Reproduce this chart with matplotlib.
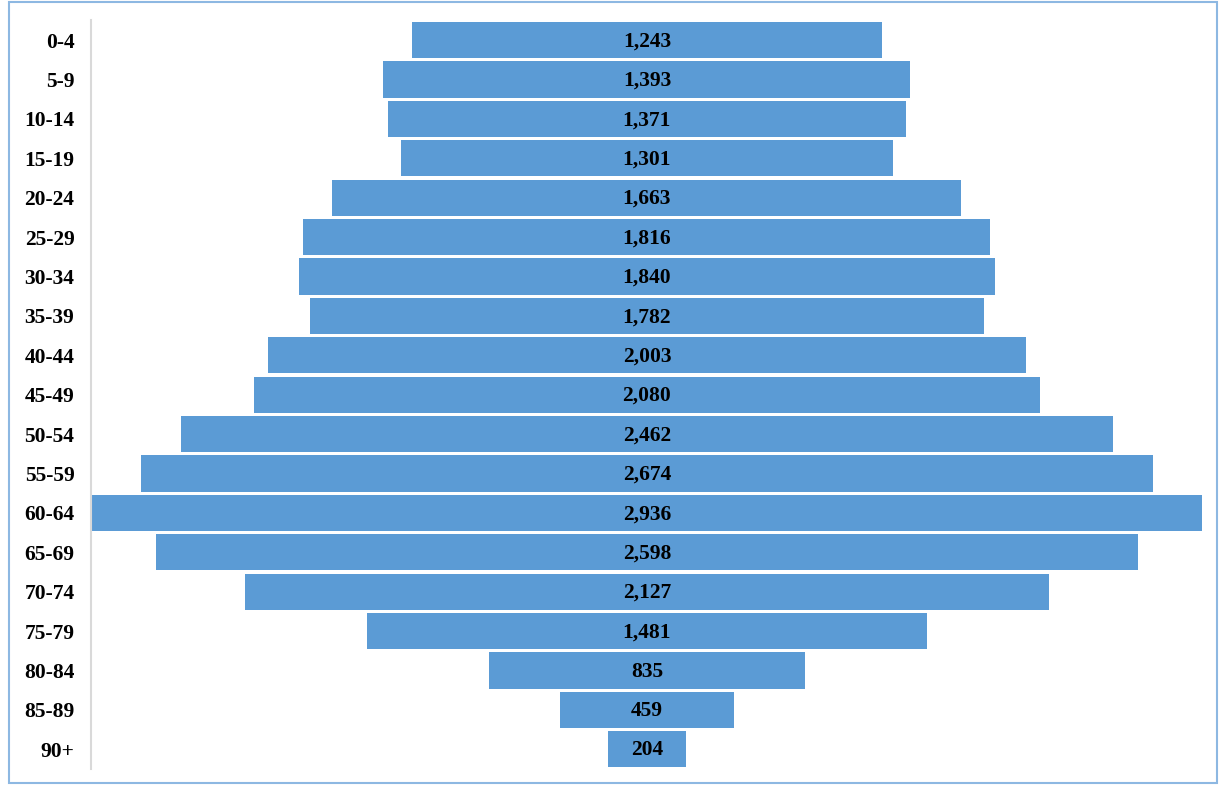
import matplotlib
matplotlib.use("Agg")
import matplotlib.pyplot as plt
from matplotlib.patches import Rectangle

matplotlib.rcParams['font.family'] = ['Liberation Serif', 'DejaVu Serif']

# ── 데이터 ───────────────────────────────────────────────
age_groups = ["0-4", "5-9", "10-14", "15-19", "20-24", "25-29", "30-34",
              "35-39", "40-44", "45-49", "50-54", "55-59", "60-64", "65-69",
              "70-74", "75-79", "80-84", "85-89", "90+"]
population = [1243, 1393, 1371, 1301, 1663, 1816, 1840, 1782, 2003, 2080,
              2462, 2674, 2936, 2598, 2127, 1481, 835, 459, 204]

BAR_COLOR = "#5B9BD5"
FS = 15.5

fig = plt.figure(figsize=(12.19, 7.85), dpi=100)
ax = fig.add_axes([0.0747, 0.0204, 0.912, 0.9535])

ypos = list(range(len(age_groups)))
lefts = [-v / 2 for v in population]
ax.barh(ypos, population, left=lefts, height=0.92, color=BAR_COLOR)

for y, v in zip(ypos, population):
    ax.text(0, y + 0.03, f"{v:,}", ha='center', va='center',
            fontsize=FS, fontweight='bold', color='black')

half = max(population) / 2
ax.set_xlim(-half * 1.001, half * 1.001)
ax.set_ylim(len(age_groups) - 0.5, -0.5)
ax.set_yticks(ypos)
ax.set_yticklabels(age_groups, fontsize=FS, fontweight='bold')
ax.tick_params(axis='y', length=0, pad=12)
ax.set_xticks([])

for side in ['top', 'right', 'bottom']:
    ax.spines[side].set_visible(False)
ax.spines['left'].set_color('#D9D9D9')
ax.spines['left'].set_linewidth(1.5)

# 외곽 테두리
fig.patches.append(Rectangle((0.007, 0.003), 0.991, 0.994,
                             transform=fig.transFigure, fill=False,
                             edgecolor='#8DB8E2', linewidth=1.5))

plt.savefig("out.png", dpi=100)
plt.close()
